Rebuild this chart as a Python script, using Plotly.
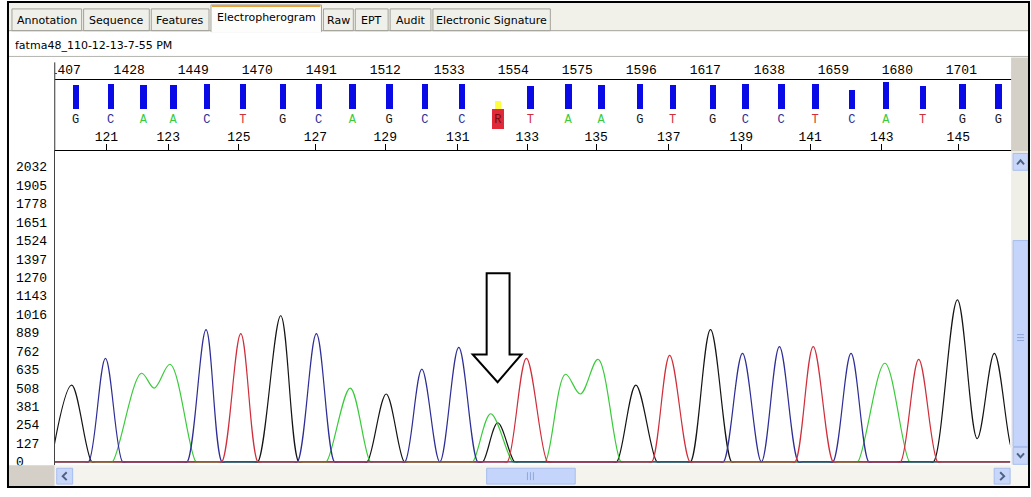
import plotly.graph_objects as go

W, H = 1031, 497

# ---------------- data ----------------
scan_ticks = [1407, 1428, 1449, 1470, 1491, 1512, 1533, 1554, 1575, 1596,
              1617, 1638, 1659, 1680, 1701, 1722]

base_numbers = [121, 123, 125, 127, 129, 131, 133, 135, 137, 139, 141, 143, 145]
base_number_pos = [1420.5, 1440.8, 1464.0, 1489.1, 1512.0, 1535.8, 1558.6,
                   1581.2, 1605.0, 1628.8, 1651.4, 1674.9, 1700.0]

base_calls = list("GCAACTGCAGCCRTAAGTGCCTCATGG")
base_pos = [1410.4, 1421.9, 1432.6, 1442.4, 1453.5, 1465.3, 1478.3, 1490.1,
            1501.2, 1513.3, 1525.0, 1537.1, 1548.9, 1559.6, 1572.0, 1582.8,
            1595.5, 1606.3, 1619.4, 1630.1, 1641.9, 1653.0, 1665.1, 1676.2,
            1688.3, 1701.3, 1713.1]
base_qv = [24, 25, 24, 24, 25, 25, 25, 25, 25, 25, 25, 25, 8, 23, 25, 24,
           25, 24, 24, 25, 25, 25, 19, 27, 23, 25, 25]

y_ticks = [0, 127, 254, 381, 508, 635, 762, 889, 1016, 1143, 1270, 1397,
           1524, 1651, 1778, 1905, 2032]

# trace vertices (scan number, signal)
G_x = [1402.4, 1409.1, 1415.7, 1417.0, 1468.9, 1470.2, 1477.7, 1483.6, 1484.9,
       1504.8, 1506.1, 1512.3, 1518.2, 1519.5, 1542.7, 1544.0, 1548.9, 1554.4,
       1555.7, 1586.7, 1588.0, 1594.2, 1601.1, 1602.4, 1610.9, 1612.2, 1618.7,
       1625.6, 1626.9, 1690.5, 1691.9, 1699.7, 1706.2, 1711.8, 1717.0, 1719.0]
G_y = [0, 528, 0, 0, 0, 0, 1006, 0, 0,
       0, 0, 467, 0, 0, 0, 0, 269, 0,
       0, 0, 0, 528, 0, 0, 0, 0, 910,
       0, 0, 0, 0, 1115, 160, 747, 126, 0]

C_x = [1400.3, 1413.4, 1414.7, 1420.2, 1425.8, 1427.1, 1445.7, 1447.0, 1453.2,
       1458.4, 1459.7, 1481.9, 1483.2, 1489.4, 1495.3, 1496.6, 1517.2, 1518.5,
       1524.0, 1529.9, 1536.1, 1542.3, 1543.6, 1621.7, 1623.0, 1629.2, 1635.4,
       1641.3, 1647.5, 1648.8, 1657.6, 1658.9, 1664.8, 1670.6, 1671.9, 1720.3]
C_y = [0, 0, 0, 713, 0, 0, 0, 0, 910,
       0, 0, 0, 0, 883, 0, 0, 0, 0,
       638, 0, 788, 0, 0, 0, 0, 747, 0,
       794, 0, 0, 0, 0, 747, 0, 0, 0]

A_x = [1400.3, 1421.2, 1422.5, 1432.0, 1436.2, 1441.4, 1449.9, 1451.2, 1491.4,
       1492.7, 1500.5, 1507.1, 1508.4, 1539.4, 1540.7, 1546.6, 1553.8, 1555.1,
       1563.2, 1564.5, 1571.1, 1576.0, 1581.8, 1589.3, 1590.6, 1665.7, 1667.0,
       1675.9, 1684.0, 1685.3, 1720.3]
A_y = [0, 0, 0, 610, 508, 672, 0, 0, 0,
       0, 508, 0, 0, 0, 0, 331, 0, 0,
       0, 0, 603, 467, 706, 0, 0, 0, 0,
       679, 0, 0, 0]

T_x = [1400.3, 1457.1, 1458.4, 1464.6, 1470.2, 1471.5, 1550.8, 1552.1, 1558.3,
       1565.2, 1566.5, 1598.2, 1599.5, 1605.3, 1611.9, 1613.2, 1645.2, 1646.5,
       1652.4, 1658.9, 1660.2, 1679.8, 1681.1, 1687.0, 1693.2, 1694.5, 1720.3]
T_y = [0, 0, 0, 883, 0, 0, 0, 0, 713,
       0, 0, 0, 0, 733, 0, 0, 0, 0,
       794, 0, 0, 0, 0, 706, 0, 0, 0]

tabs = ["Annotation", "Sequence", "Features", "Electropherogram", "Raw",
        "EPT", "Audit", "Electronic Signature"]
file_name = "fatma48_110-12-13-7-55 PM"

# ---------------- styling ----------------
MONO = "Liberation Mono"
SANS = "DejaVu Sans"
COL = {"G": "#151515", "C": "#2e2e96", "A": "#3acb3a", "T": "#cf2e3a", "R": "#7a0c10"}
SCALE = 3.063          # pixels per scan
X0 = 1403.57           # scan at left edge of plot area


def px(x):
    return x / W


def py(y):
    return 1 - y / H


tab_x = [(7, 77), (79, 145), (147, 205), (207, 318), (320, 350), (352, 385),
         (387, 428), (430, 548)]
selected = 3

fig = go.Figure()

# base call quality bars
bar_colors = ["#ffff40" if b == "R" else "#0a0ae6" for b in base_calls]
fig.add_trace(go.Bar(x=base_pos, y=base_qv, width=2.1, marker_color=bar_colors,
                     marker_line_width=0, xaxis="x2", yaxis="y2", hoverinfo="skip"))
# highlight box around the ambiguous call
amb = base_calls.index("R")
fig.add_trace(go.Bar(x=[base_pos[amb]], y=[20], base=[-20], width=3.9,
                     marker_color="#e02a3a", marker_line_width=0,
                     xaxis="x2", yaxis="y2", hoverinfo="skip"))
# base letters
fig.add_trace(go.Scatter(x=base_pos, y=[-11] * len(base_pos), mode="text",
                         text=base_calls,
                         textfont=dict(family=MONO, size=12,
                                       color=[COL[b] for b in base_calls]),
                         xaxis="x3", yaxis="y2", hoverinfo="skip"))

for xs, ys, key in [(G_x, G_y, "G"), (A_x, A_y, "A"), (C_x, C_y, "C"), (T_x, T_y, "T")]:
    fig.add_trace(go.Scatter(x=xs, y=ys, mode="lines",
                             line=dict(color=COL[key], width=1.2, shape="spline", smoothing=1.0),
                             xaxis="x", yaxis="y", hoverinfo="skip"))

shapes = []


def rect(x0, y0, x1, y1, fill, line=None, lw=1, layer="above"):
    shapes.append(dict(type="rect", xref="paper", yref="paper",
                       x0=px(x0), x1=px(x1), y0=py(y1), y1=py(y0),
                       fillcolor=fill, line=dict(color=line or fill, width=lw if line else 0),
                       layer=layer))


def hline(x0, x1, y, color, lw=1, layer="above"):
    shapes.append(dict(type="line", xref="paper", yref="paper",
                       x0=px(x0), x1=px(x1), y0=py(y), y1=py(y),
                       line=dict(color=color, width=lw), layer=layer))


def vline(x, y0, y1, color, lw=1, layer="above"):
    shapes.append(dict(type="line", xref="paper", yref="paper",
                       x0=px(x), x1=px(x), y0=py(y0), y1=py(y1),
                       line=dict(color=color, width=lw), layer=layer))


def path(pts, color, lw=1, fill=None, closed=False, layer="above"):
    d = "M " + " L ".join(f"{px(a):.5f},{py(b):.5f}" for a, b in pts)
    if closed:
        d += " Z"
    shapes.append(dict(type="path", xref="paper", yref="paper", path=d,
                       line=dict(color=color, width=lw),
                       fillcolor=fill if fill else "rgba(0,0,0,0)", layer=layer))


# tab row background
rect(3, 3, 1029, 31, "#f1f0e9", layer="below")
# tabs
for i, (a, b) in enumerate(tab_x):
    if i == selected:
        rect(a, 5, b, 32, "#fdfdfc", "#a3a39c", 1)
    else:
        rect(a, 9, b, 31, "#f0f0ea", "#a3a39c", 1)
hline(3, tab_x[selected][0], 31, "#a3a39c")
hline(tab_x[selected][1], 1029, 31, "#a3a39c")
rect(tab_x[selected][0] + 0.5, 31, tab_x[selected][1] - 0.5, 33, "#fdfdfc")
hline(tab_x[selected][0] + 1, tab_x[selected][1] - 1, 6, "#e8a43a", 2)
# filename row
hline(3, 1029, 57, "#b4b4ae")
# header panel left line and clipping of first label
rect(4, 58.5, 50.5, 80, "#ffffff")
vline(50, 63, 152, "#333333")
# right grey block next to header
rect(1011, 58, 1029, 153, "#d4d0c8")
# vertical scrollbar
rect(1011, 153, 1029, 470, "#efeee7")
rect(1013, 155, 1028, 172, "#c8d7f9", "#a6bdee", 1)
path([(1017, 166), (1020.5, 162), (1024, 166)], "#4d6185", 2)
rect(1013, 243, 1028, 451, "#c4d4fa", "#a6bdee", 1)
for yy in (338, 341, 344):
    hline(1017, 1024, yy, "#90a8dc")
rect(1013, 452, 1028, 469, "#c8d7f9", "#a6bdee", 1)
path([(1017, 458), (1020.5, 462), (1024, 458)], "#4d6185", 2)
# horizontal scrollbar
rect(4, 470, 50, 491, "#d4d0c8")
rect(50, 470, 1011, 491, "#f4f3ee")
rect(1011, 470, 1029, 491, "#f7f7f4")
rect(52, 473, 68, 489, "#c8d7f9", "#a6bdee", 1)
path([(62, 477), (58, 481), (62, 485)], "#4d6185", 2)
rect(484, 473, 573, 489, "#c4d4fa", "#a6bdee", 1)
for xx in (525, 528, 531):
    vline(xx, 477, 485, "#90a8dc")
rect(994, 473, 1010, 489, "#c8d7f9", "#a6bdee", 1)
path([(1000, 477), (1004, 481), (1000, 485)], "#4d6185", 2)
# right white strip outside the frame
rect(1029.5, 0, 1031, 497, "#ffffff")
rect(0, 492.5, 1031, 497, "#ffffff")
# outer frame
shapes.append(dict(type="rect", xref="paper", yref="paper",
                   x0=px(3), x1=px(1029), y0=py(492), y1=py(2),
                   line=dict(color="#000000", width=2), layer="above"))
# the arrow pointing at the ambiguous peak
path([(484, 276), (507, 276), (507, 358), (519, 358), (495, 386), (470, 358), (484, 358)],
     "#000000", 2, fill="#ffffff", closed=True)

annotations = []
for i, (a, b) in enumerate(tab_x):
    annotations.append(dict(xref="paper", yref="paper", x=px((a + b) / 2),
                            y=py(18 if i == selected else 21), text=tabs[i],
                            showarrow=False, xanchor="center", yanchor="middle",
                            font=dict(family=SANS, size=11, color="#000000")))
annotations.append(dict(xref="paper", yref="paper", x=px(8), y=py(46), text=file_name,
                        showarrow=False, xanchor="left", yanchor="middle",
                        font=dict(family=SANS, size=11, color="#000000")))

x_main_end = X0 + (1010 - 50) / SCALE
x_head_end = X0 + (1028 - 50) / SCALE

fig.update_layout(
    width=W, height=H, margin=dict(l=0, r=0, t=0, b=0),
    paper_bgcolor="#ffffff", plot_bgcolor="#ffffff",
    showlegend=False, barmode="overlay", bargap=0,
    shapes=shapes, annotations=annotations,
    xaxis=dict(domain=[px(50), px(1010)], range=[X0, x_main_end], visible=False,
               anchor="y", fixedrange=True),
    yaxis=dict(domain=[py(470), py(152)], range=[-23.9, 2144.6], anchor="x",
               tickvals=y_ticks,
               ticktext=[f"{v:<4}".replace(" ", "\u00a0") for v in y_ticks],
               tickfont=dict(family=MONO, size=13, color="#000000"),
               ticks="", showgrid=False, zeroline=False,
               showline=True, linecolor="#444444", linewidth=1,
               ticklabelstandoff=4, fixedrange=True),
    xaxis2=dict(domain=[px(50), px(1028)], range=[X0, x_head_end], anchor="y2",
                side="top", tickvals=scan_ticks, ticktext=[str(v) for v in scan_ticks],
                tickfont=dict(family=MONO, size=13, color="#000000"),
                ticks="", showgrid=False, zeroline=False,
                showline=True, linecolor="#000000", linewidth=1, fixedrange=True),
    xaxis3=dict(domain=[px(50), px(1028)], range=[X0, x_head_end], anchor="y2",
                overlaying="x2", side="bottom",
                tickvals=base_number_pos, ticktext=[str(v) for v in base_numbers],
                tickfont=dict(family=MONO, size=13, color="#000000"),
                ticks="inside", ticklen=6, tickcolor="#000000",
                ticklabelposition="inside", showgrid=False, zeroline=False,
                showline=True, linecolor="#000000", linewidth=1, fixedrange=True),
    yaxis2=dict(domain=[py(152), py(81)], range=[-42, 29], anchor="x2",
                visible=False, fixedrange=True),
)

fig.write_html("out.html")
